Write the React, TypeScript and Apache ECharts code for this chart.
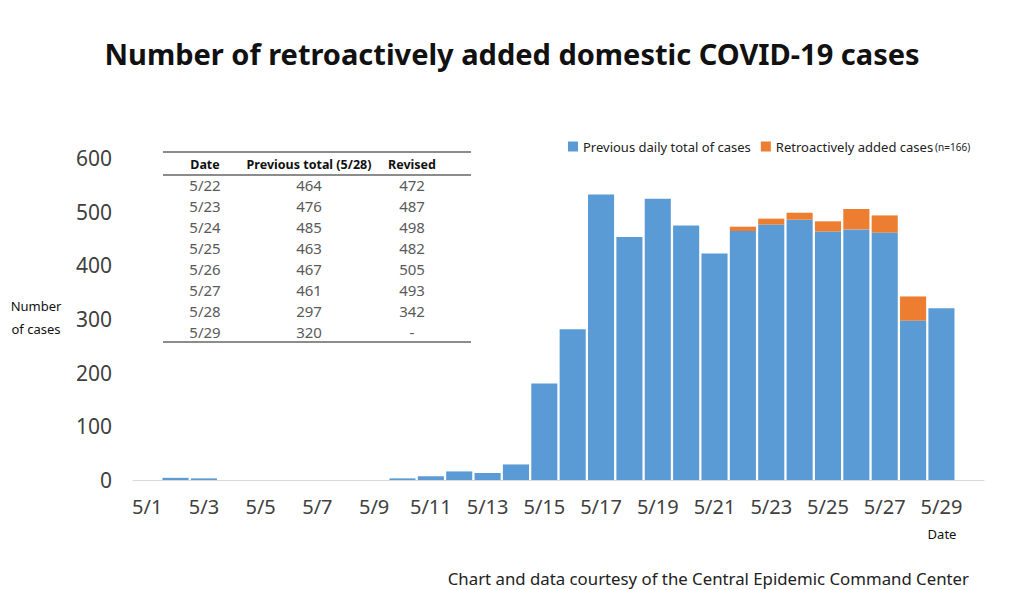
import React, { useEffect, useRef } from "react";
import * as echarts from "echarts";

const categories = [
  "5/1", "5/2", "5/3", "5/4", "5/5", "5/6", "5/7", "5/8", "5/9", "5/10",
  "5/11", "5/12", "5/13", "5/14", "5/15", "5/16", "5/17", "5/18", "5/19", "5/20",
  "5/21", "5/22", "5/23", "5/24", "5/25", "5/26", "5/27", "5/28", "5/29", "5/30",
];
const previousTotals = [
  0, 4, 3, 0, 0, 0, 0, 0, 0, 3,
  7, 16, 13, 29, 180, 281, 532, 453, 524, 474,
  422, 464, 476, 485, 463, 467, 461, 297, 320, null,
];
const retroAdded = [
  0, 0, 0, 0, 0, 0, 0, 0, 0, 0,
  0, 0, 0, 0, 0, 0, 0, 0, 0, 0,
  0, 8, 11, 13, 19, 38, 32, 45, 0, null,
];

const tableDates = ["5/22", "5/23", "5/24", "5/25", "5/26", "5/27", "5/28", "5/29"];
const tablePrevious = ["464", "476", "485", "463", "467", "461", "297", "320"];
const tableRevised = ["472", "487", "498", "482", "505", "493", "342", "-"];
const tableHeaders = ["Date", "Previous total (5/28)", "Revised"];

const FONT = "'Noto Sans', 'Open Sans', sans-serif";

export default function App() {
  const ref = useRef<HTMLDivElement>(null);
  useEffect(() => {
    if (!ref.current) return;
    const chart = echarts.init(ref.current, null, { renderer: "svg" });

    const colX = [205, 309, 412];
    const graphics: any[] = [];
    const lineStyle = { stroke: "#8c8c8c", lineWidth: 2 };
    graphics.push({ type: "line", shape: { x1: 163, y1: 152, x2: 471, y2: 152 }, style: lineStyle });
    graphics.push({ type: "line", shape: { x1: 163, y1: 175, x2: 471, y2: 175 }, style: lineStyle });
    graphics.push({ type: "line", shape: { x1: 163, y1: 342, x2: 471, y2: 342 }, style: lineStyle });
    tableHeaders.forEach((h, i) => {
      graphics.push({
        type: "text",
        x: colX[i],
        y: 164,
        style: { text: h, fontSize: 12.5, fontWeight: "bold", fill: "#111", align: "center", verticalAlign: "middle", fontFamily: FONT },
      });
    });
    tableDates.forEach((d, r) => {
      const y = 185 + r * 21;
      [d, tablePrevious[r], tableRevised[r]].forEach((t, i) => {
        graphics.push({
          type: "text",
          x: colX[i],
          y,
          style: { text: t, fontSize: 15, fill: "#5a5a5a", align: "center", verticalAlign: "middle", fontFamily: FONT },
        });
      });
    });
    graphics.push({
      type: "text", x: 36, y: 306,
      style: { text: "Number", fontSize: 13, fill: "#111", align: "center", verticalAlign: "middle", fontFamily: FONT },
    });
    graphics.push({
      type: "text", x: 36, y: 329,
      style: { text: "of cases", fontSize: 13, fill: "#111", align: "center", verticalAlign: "middle", fontFamily: FONT },
    });
    graphics.push({
      type: "text", x: 942, y: 534,
      style: { text: "Date", fontSize: 13, fill: "#111", align: "center", verticalAlign: "middle", fontFamily: FONT },
    });
    graphics.push({
      type: "text", x: 969, y: 578,
      style: { text: "Chart and data courtesy of the Central Epidemic Command Center", fontSize: 16.8, fill: "#222", align: "right", verticalAlign: "middle", fontFamily: FONT },
    });

    chart.setOption({
      animation: false,
      backgroundColor: "#fff",
      title: {
        text: "Number of retroactively added domestic COVID-19 cases",
        left: "center",
        top: 34,
        textStyle: { fontSize: 29, fontWeight: "bold", color: "#111", fontFamily: FONT },
      },
      legend: {
        left: 563,
        top: 135,
        icon: "rect",
        itemWidth: 10,
        itemHeight: 10,
        itemGap: 10,
        textStyle: {
          fontSize: 13,
          color: "#222",
          fontFamily: FONT,
          rich: {
            a: { fontSize: 13, color: "#222", fontFamily: FONT },
            b: { fontSize: 10, color: "#222", fontFamily: FONT, padding: [0, 0, 0, 2] },
          },
        },
        formatter: (name: string) =>
          name === "Retroactively added cases" ? "{a|Retroactively added cases}{b|(n=166)}" : name,
        data: ["Previous daily total of cases", "Retroactively added cases"],
      },
      grid: { left: 133, right: 40, top: 158, bottom: 110, containLabel: false },
      xAxis: {
        type: "category",
        data: categories,
        axisLine: { lineStyle: { color: "#d9d9d9" } },
        axisTick: { interval: 1, lineStyle: { color: "#d9d9d9" }, length: 6 },
        axisLabel: { interval: 1, fontSize: 20, color: "#404040", margin: 16, fontFamily: FONT },
      },
      yAxis: {
        type: "value",
        min: 0,
        max: 600,
        interval: 100,
        splitLine: { show: false },
        axisLine: { show: false },
        axisTick: { show: false },
        axisLabel: { fontSize: 21, color: "#404040", margin: 21, fontFamily: FONT },
      },
      series: [
        {
          name: "Previous daily total of cases",
          type: "bar",
          stack: "total",
          data: previousTotals,
          barCategoryGap: "8%",
          itemStyle: { color: "#5b9bd5" },
        },
        {
          name: "Retroactively added cases",
          type: "bar",
          stack: "total",
          data: retroAdded,
          itemStyle: { color: "#ed7d31" },
        },
      ],
      graphic: graphics,
    });
    return () => chart.dispose();
  }, []);
  return <div ref={ref} style={{ position: "fixed", left: 0, top: 0, width: 1024, height: 590 }} />;
}
